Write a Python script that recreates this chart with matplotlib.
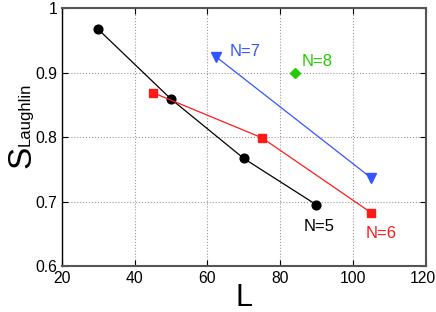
import matplotlib
matplotlib.use("Agg")
import matplotlib.pyplot as plt
import matplotlib.transforms as mtransforms

plt.rcParams['font.family'] = ['Liberation Sans', 'DejaVu Sans']

# data
L_n5 = [30, 50, 70, 90]
S_n5 = [0.967, 0.859, 0.767, 0.695]
L_n6 = [45, 75, 105]
S_n6 = [0.869, 0.799, 0.683]
L_n7 = [62.5, 105]
S_n7 = [0.924, 0.737]
L_n8 = [84]
S_n8 = [0.900]

xticks = [20, 40, 60, 80, 100, 120]
yticks = [0.6, 0.7, 0.8, 0.9, 1.0]
ytick_labels = ['0.6', '0.7', '0.8', '0.9', '1']

fig = plt.figure(figsize=(4.36, 3.12), dpi=100)
ax = fig.add_axes([0.142, 0.147, 0.834, 0.827])

ax.plot(L_n5, S_n5, '-o', color='black', lw=0.9, ms=6.3)
ax.plot(L_n6, S_n6, '-s', color='#ff1a1a', lw=0.9, ms=5.6)
ax.plot(L_n7, S_n7, '-v', color='#3355ff', lw=0.9, ms=6.5)
ax.plot(L_n8, S_n8, 'D', color='#22cc00', ms=5)

ax.text(66, 0.925, 'N=7', color='#3355ff', fontsize=12)
ax.text(86, 0.911, 'N=8', color='#22cc00', fontsize=12)
ax.text(86.5, 0.654, 'N=5', color='black', fontsize=12)
ax.text(103.5, 0.643, 'N=6', color='#ff1a1a', fontsize=12)

ax.set_xlim(20, 120)
ax.set_ylim(0.6, 1.0)
ax.set_xticks(xticks)
ax.set_yticks(yticks)
ax.set_yticklabels(ytick_labels)
ax.tick_params(direction='in', labelsize=11.3, length=4, top=True, right=True)
ax.grid(True, ls=':', color='#999999', lw=0.8)

# nudge the last x label so it stays inside the figure
last = ax.get_xticklabels()[-1]
last.set_transform(last.get_transform() +
                   mtransforms.ScaledTranslation(-3 / 100, 0, fig.dpi_scale_trans))

for side in ['top', 'right', 'bottom']:
    ax.spines[side].set_color('#555555')
    ax.spines[side].set_linewidth(1.5)
ax.spines['left'].set_linewidth(1.0)

ax.set_xlabel('L', fontsize=22, labelpad=-2)
fig.text(0.015, 0.497, 'S', fontsize=24, rotation=90, va='center', ha='left')
fig.text(0.04, 0.635, 'Laughlin', fontsize=12, rotation=90, va='center', ha='left')

fig.savefig('out.png', dpi=100)
